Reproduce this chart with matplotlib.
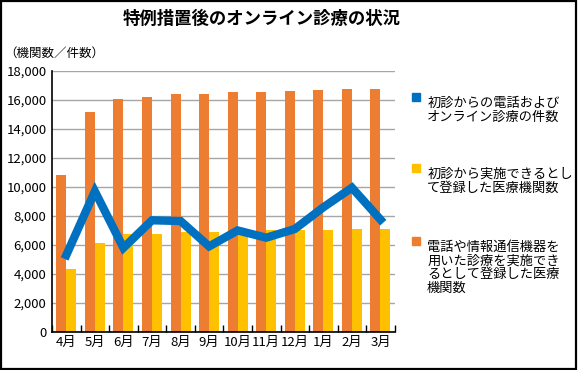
import matplotlib.pyplot as plt
import numpy as np
from matplotlib.patches import Rectangle

plt.rcParams['font.family'] = ['Noto Sans CJK JP', 'DejaVu Sans']

months = ['4月', '5月', '6月', '7月', '8月', '9月', '10月', '11月', '12月', '1月', '2月', '3月']
registered_all = [10800, 15200, 16100, 16200, 16450, 16450, 16550, 16550, 16600, 16700, 16750, 16750]
registered_first = [4350, 6150, 6750, 6750, 6900, 6900, 6800, 7000, 7050, 7050, 7100, 7100]
online_cases = [5300, 9700, 5800, 7700, 7650, 5900, 7000, 6500, 7100, 8600, 9950, 7750]
yticks = [0, 2000, 4000, 6000, 8000, 10000, 12000, 14000, 16000, 18000]

c_blue = '#0070C0'
c_yellow = '#FFC000'
c_orange = '#ED7D31'

fig = plt.figure(figsize=(5.78, 3.70), dpi=100)
ax = fig.add_axes([0.090, 0.103, 0.593, 0.705])

x = np.arange(len(months))
w = 0.35
ax.bar(x - w / 2, registered_all, w, color=c_orange, zorder=2)
ax.bar(x + w / 2, registered_first, w, color=c_yellow, zorder=2)
ax.plot(x, online_cases, color=c_blue, lw=6, solid_joinstyle='miter', zorder=3)

ax.set_xlim(-0.5, 11.5)
ax.set_ylim(0, 18000)
ax.set_yticks(yticks)
ax.set_yticklabels([f'{v:,}' for v in yticks], fontsize=9.5)
ax.tick_params(axis='y', length=0, pad=4)
ax.set_xticks(x)
ax.set_xticklabels(months, fontsize=9.5)
ax.tick_params(axis='x', length=0, pad=3)
ax.set_xticks(np.arange(-0.5, 12, 1), minor=True)
ax.tick_params(axis='x', which='minor', direction='in', length=5, width=1, color='black')
ax.yaxis.grid(True, color='#A6A6A6', lw=1, zorder=0)
ax.set_axisbelow(True)
for s in ['top', 'right']:
    ax.spines[s].set_visible(False)
for s in ['left', 'bottom']:
    ax.spines[s].set_color('black')
    ax.spines[s].set_linewidth(1.2)

fig.text(0.452, 0.95, '特例措置後のオンライン診療の状況', ha='center', va='center',
         fontsize=12.5, fontweight='bold')
fig.text(0.008, 0.857, '（機関数／件数）', ha='left', va='center', fontsize=9)

legend_items = [
    (c_blue, '初診からの電話および\nオンライン診療の件数', 0.735),
    (c_yellow, '初診から実施できるとし\nて登録した医療機関数', 0.543),
    (c_orange, '電話や情報通信機器を\n用いた診療を実施でき\nるとして登録した医療\n機関数', 0.345),
]
for color, label, ytop in legend_items:
    fig.patches.append(Rectangle((0.712, ytop - 0.008), 0.014, 0.022, color=color,
                                 transform=fig.transFigure, figure=fig))
    fig.text(0.739, ytop + 0.003, label, ha='left', va='top', fontsize=9.5,
             linespacing=1.05)

fig.patches.append(Rectangle((0.002, 0.003), 0.995, 0.994, fill=False, edgecolor='black',
                             lw=1.6, transform=fig.transFigure, figure=fig))

fig.savefig('out.png', dpi=100, facecolor='white')
